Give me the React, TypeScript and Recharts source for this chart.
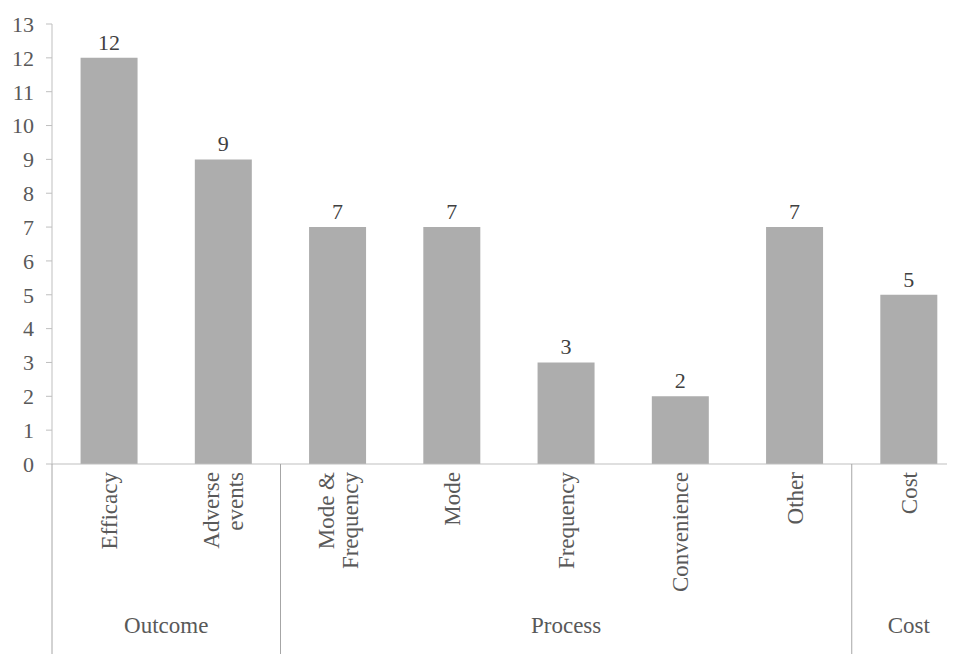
import { BarChart, Bar, XAxis, YAxis, LabelList } from "recharts";

const categories = [
  "Efficacy",
  "Adverse\nevents",
  "Mode &\nFrequency",
  "Mode",
  "Frequency",
  "Convenience",
  "Other",
  "Cost",
];
const counts = [12, 9, 7, 7, 3, 2, 7, 5];
const groupNames = ["Outcome", "Process", "Cost"];
const groupSizes = [2, 5, 1];
const yTicks = [0, 1, 2, 3, 4, 5, 6, 7, 8, 9, 10, 11, 12, 13];

const data = categories.map((name, i) => ({ name, value: counts[i] }));

const CHART_W = 960;
const CHART_H = 654;
const MARGIN = { top: 16, right: 2, left: 0, bottom: 0 };
const Y_AXIS_W = 44;
const X_AXIS_H = 198;
const BAND = (CHART_W - MARGIN.left - MARGIN.right - Y_AXIS_W) / categories.length;

const FONT = "Liberation Serif, Times New Roman, serif";
const TEXT = "#595959";
const AXIS = "#BFBFBF";
const fontStyle = { fontFamily: FONT };

// start index of each group
const groupStarts = groupSizes.map((_, i) =>
  groupSizes.slice(0, i).reduce((a, b) => a + b, 0)
);

function CategoryTick(props: any) {
  const { x, y, payload, index } = props;
  const lines = String(payload.value).split("\n");
  const lineH = 24;
  const axisY = y - 8;
  const g = groupStarts.indexOf(index);

  return (
    <g>
      <text
        transform={`rotate(-90, ${x}, ${y})`}
        x={x}
        y={y}
        textAnchor="end"
        fill={TEXT}
        fontSize={23}
        style={fontStyle}
      >
        {lines.map((ln, i) => (
          <tspan
            key={i}
            x={x}
            dy={i === 0 ? -((lines.length - 1) * lineH) / 2 + 8 : lineH}
          >
            {ln}
          </tspan>
        ))}
      </text>
      {g >= 0 && (
        <>
          <line
            x1={x - BAND / 2}
            x2={x - BAND / 2}
            y1={axisY}
            y2={axisY + 196}
            stroke="#A6A6A6"
            strokeWidth={1}
          />
          <text
            x={x + ((groupSizes[g] - 1) * BAND) / 2}
            y={axisY + 169}
            textAnchor="middle"
            fill={TEXT}
            fontSize={23}
            style={fontStyle}
          >
            {groupNames[g]}
          </text>
        </>
      )}
    </g>
  );
}

export default function App() {
  return (
    <div
      style={{
        width: 947,
        height: CHART_H,
        overflow: "hidden",
        marginBottom: -8,
        fontFamily: FONT,
      }}
    >
      <BarChart
        width={CHART_W}
        height={CHART_H}
        data={data}
        margin={MARGIN}
        barCategoryGap="25%"
        style={fontStyle}
      >
        <XAxis
          dataKey="name"
          interval={0}
          height={X_AXIS_H}
          tickLine={false}
          tickSize={0}
          tickMargin={8}
          axisLine={{ stroke: AXIS }}
          tick={<CategoryTick />}
        />
        <YAxis
          width={Y_AXIS_W}
          domain={[0, 13]}
          ticks={yTicks}
          interval={0}
          tickSize={6}
          tickMargin={12}
          axisLine={{ stroke: AXIS }}
          tickLine={{ stroke: AXIS }}
          tick={{ fill: TEXT, fontSize: 22, style: fontStyle }}
        />
        <Bar dataKey="value" fill="#ADADAD" isAnimationActive={false}>
          <LabelList
            dataKey="value"
            position="top"
            offset={8}
            fill="#404040"
            fontSize={22}
            style={fontStyle}
          />
        </Bar>
      </BarChart>
    </div>
  );
}
